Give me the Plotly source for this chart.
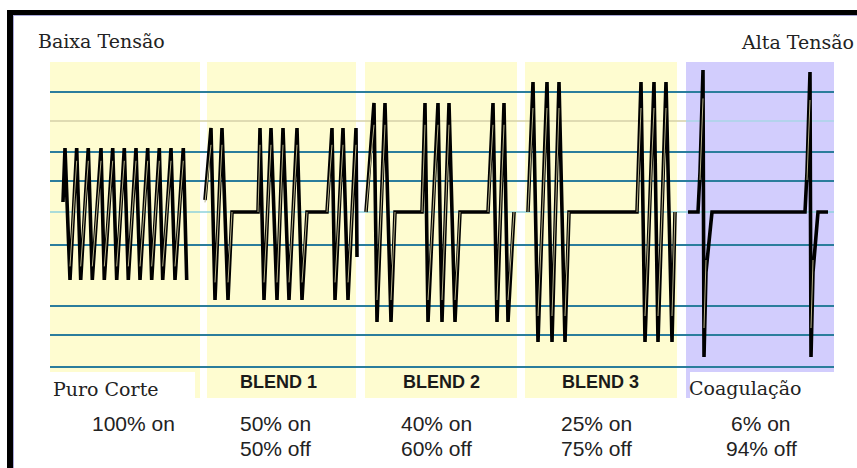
import plotly.graph_objects as go

# ---------------- data ----------------
# time axis (arbitrary units), voltage axis (arbitrary units, 0 = rest level)
modes = ["Puro Corte", "BLEND 1", "BLEND 2", "BLEND 3", "Coagulação"]
on_pct = [100, 50, 40, 25, 6]
scale_labels = ["Baixa Tensão", "Alta Tensão"]

corte_t = [63, 65, 70, 76.7, 80.7, 88.3, 92.3, 101, 104.3, 112.7, 116.7, 124.3, 128.3,
           136, 140, 147.7, 151.7, 159.3, 162.7, 171, 175, 183.3, 186.7]
corte_v = [10, 64, -68, 64, -68, 64, -68, 64, -68, 64, -68, 64, -68,
           64, -68, 64, -68, 64, -68, 64, -68, 64, -68]

blend1_t = [205, 211, 215, 222, 228, 232, 258, 260, 264, 271, 277, 283, 289, 297, 302, 307,
            327, 332, 335, 343, 348, 356, 357]
blend1_v = [12, 84, -88, 84, -88, 0, 0, 84, -88, 84, -88, 84, -88, 84, -88, 0,
            0, 84, -88, 84, -88, 84, -45]

blend2_t = [366, 374, 377, 385, 391, 395, 422, 425, 428, 438, 442, 449, 455, 460,
            488, 493, 497, 504, 508, 514]
blend2_v = [0, 109, -110, 109, -110, 0, 0, 109, -110, 109, -110, 109, -110, 0,
            0, 109, -110, 109, -110, 0]

blend3_t = [528, 533, 538, 547, 552, 559, 565, 569, 637, 641, 645, 654, 658, 666, 672, 675]
blend3_v = [0, 130, -130, 130, -130, 130, -130, 0, 0, 130, -130, 130, -130, 130, -130, 0]

coag_t = [688, 698, 700, 703, 704, 706, 712, 805, 807, 810, 811, 813, 818, 828]
coag_v = [0, 0, 40, 142, -145, -60, 0, 0, 40, 140, -145, -60, 0, 0]

waves = [(corte_t, corte_v), (blend1_t, blend1_v), (blend2_t, blend2_v),
         (blend3_t, blend3_v), (coag_t, coag_v)]

# ---------------- layout helpers ----------------
W, H = 857, 468
Y_TOP = 212              # axis value at top edge of the figure
def vy(py):              # pixel row -> axis value
    return Y_TOP - py

fig = go.Figure()

for t, v in waves:
    fig.add_trace(go.Scatter(x=t, y=v, mode="lines",
                             line=dict(color="black", width=3.6),
                             hoverinfo="skip", showlegend=False))
    # rising strokes get a light core (outlined look of the original drawing)
    ux, uy = [], []
    for i in range(len(t) - 1):
        if v[i + 1] - v[i] > 60:
            ux += [t[i], t[i + 1], None]
            uy += [v[i] * 0.8, v[i + 1] * 0.8, None]
    fig.add_trace(go.Scatter(x=ux, y=uy, mode="lines",
                             line=dict(color="#b8b288", width=1),
                             hoverinfo="skip", showlegend=False))

shapes = []
yellow = "#fefcd0"
lavender = "#d2cdfd"
panels = [(50, 200, yellow), (207, 356, yellow), (365, 517, yellow),
          (525, 677, yellow), (686, 834, lavender)]
for x0, x1, c in panels:
    shapes.append(dict(type="rect", xref="x", yref="y", x0=x0, x1=x1,
                       y0=vy(62), y1=vy(398), fillcolor=c, line_width=0, layer="below"))
# white label boxes
shapes.append(dict(type="rect", xref="x", yref="y", x0=50, x1=195, y0=vy(372), y1=vy(399),
                   fillcolor="white", line_width=0, layer="below"))
shapes.append(dict(type="rect", xref="x", yref="y", x0=690, x1=835, y0=vy(372), y1=vy(399),
                   fillcolor="white", line_width=0, layer="below"))

# light reference lines
shapes.append(dict(type="line", xref="x", yref="y", x0=50, x1=686, y0=vy(121), y1=vy(121),
                   line=dict(color="#d4d0a8", width=1.5), layer="below"))
shapes.append(dict(type="line", xref="x", yref="y", x0=686, x1=834, y0=vy(121), y1=vy(121),
                   line=dict(color="#a9d4e6", width=1.5), layer="below"))
shapes.append(dict(type="line", xref="x", yref="y", x0=50, x1=834, y0=0, y1=0,
                   line=dict(color="#8ed2dc", width=1.5), layer="below"))
teal_rows = [92, 152, 181, 245, 306, 335, 367]
for r in teal_rows:
    shapes.append(dict(type="line", xref="x", yref="y", x0=50, x1=834, y0=vy(r), y1=vy(r),
                       line=dict(color="#2b7d9c", width=2), layer="below"))

# frame
shapes.append(dict(type="rect", xref="x", yref="y", x0=7, x1=857, y0=vy(10), y1=vy(15),
                   fillcolor="black", line_width=0, layer="above"))
shapes.append(dict(type="rect", xref="x", yref="y", x0=7, x1=13, y0=vy(10), y1=vy(468),
                   fillcolor="black", line_width=0, layer="above"))
shapes.append(dict(type="line", xref="x", yref="y", x0=13.5, x1=13.5, y0=vy(15), y1=vy(468),
                   line=dict(color="#a8a8d8", width=1), layer="above"))
shapes.append(dict(type="line", xref="x", yref="y", x0=13, x1=857, y0=vy(15.5), y1=vy(15.5),
                   line=dict(color="#a8a8d8", width=1), layer="above"))

annotations = []
serif = "DejaVu Serif"
sans = "Liberation Sans"
annotations.append(dict(x=36, y=vy(41), xref="x", yref="y", text=scale_labels[0],
                        showarrow=False, xanchor="left", yanchor="middle",
                        font=dict(family=serif, size=19, color="#222")))
annotations.append(dict(x=856, y=vy(42), xref="x", yref="y", text=scale_labels[1],
                        showarrow=False, xanchor="right", yanchor="middle",
                        font=dict(family=serif, size=19, color="#222")))
annotations.append(dict(x=51, y=vy(389), xref="x", yref="y", text=modes[0],
                        showarrow=False, xanchor="left", yanchor="middle",
                        font=dict(family=serif, size=19, color="#222")))
annotations.append(dict(x=687, y=vy(388), xref="x", yref="y", text=modes[4],
                        showarrow=False, xanchor="left", yanchor="middle",
                        font=dict(family=serif, size=19, color="#222")))
blend_cx = [278, 441, 600]
for name, cx in zip(modes[1:4], blend_cx):
    annotations.append(dict(x=cx, y=vy(382), xref="x", yref="y", text="<b>%s</b>" % name,
                            showarrow=False, xanchor="center", yanchor="middle",
                            font=dict(family=sans, size=18, color="#1a1a1a")))
pct_cx = [133, 275, 436, 596, 761]
for p, cx in zip(on_pct, pct_cx):
    annotations.append(dict(x=cx, y=vy(423), xref="x", yref="y", text="%d%% on" % p,
                            showarrow=False, xanchor="center", yanchor="middle",
                            font=dict(family=sans, size=21, color="#222")))
    if p < 100:
        annotations.append(dict(x=cx, y=vy(448), xref="x", yref="y", text="%d%% off" % (100 - p),
                                showarrow=False, xanchor="center", yanchor="middle",
                                font=dict(family=sans, size=21, color="#222")))

fig.update_layout(
    width=W, height=H,
    margin=dict(l=0, r=0, t=0, b=0),
    paper_bgcolor="white", plot_bgcolor="white",
    xaxis=dict(range=[0, W], visible=False, fixedrange=True),
    yaxis=dict(range=[Y_TOP - H, Y_TOP], visible=False, fixedrange=True),
    shapes=shapes, annotations=annotations,
    showlegend=False,
)

fig.write_html("out.html", config={"displayModeBar": False},
               post_script="document.body.style.margin='0px';document.body.style.overflow='hidden';")
